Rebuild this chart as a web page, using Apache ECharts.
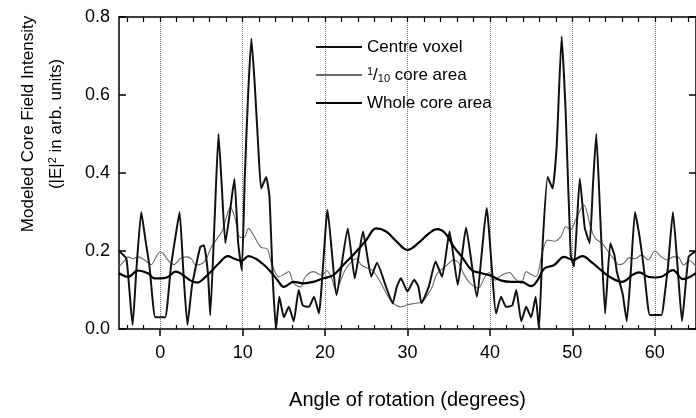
<!DOCTYPE html>
<html>
<head>
<meta charset="utf-8">
<script src="https://cdn.jsdelivr.net/npm/echarts@6/dist/echarts.min.js"></script>
<style>
  html, body { margin: 0; padding: 0; background: #fff; }
  #chart { width: 696px; height: 418px; }
</style>
</head>
<body>
<div id="chart"></div>
<script>
const FONT = '"Liberation Sans", Arial, Helvetica, sans-serif';

// [angle of rotation (deg), |E|^2 in arb. units]
const centreVoxel = [
  [-5, 0.2], [-4.1, 0.18], [-3.35, 0.01], [-2.9, 0.15], [-2.3, 0.30], [-1.8, 0.23],
  [-1.3, 0.16], [-0.9, 0.07], [-0.6, 0.03], [0.6, 0.03], [0.9, 0.07], [1.3, 0.16],
  [1.8, 0.23], [2.35, 0.30], [2.8, 0.15], [3.3, 0.01], [3.85, 0.11], [4.85, 0.21],
  [5.3, 0.215], [5.8, 0.14], [6.07, 0.035], [6.6, 0.28], [7.07, 0.50], [7.46, 0.37],
  [7.9, 0.22], [8.46, 0.30], [9.0, 0.385], [9.46, 0.22], [9.9, 0.15], [10.26, 0.39],
  [10.66, 0.60], [11.06, 0.745], [11.46, 0.63], [11.86, 0.48], [12.25, 0.36], [12.85, 0.39],
  [13.25, 0.34], [13.65, 0.13], [14.05, 0.0], [14.45, 0.083], [15.0, 0.03], [15.6, 0.057],
  [16.2, 0.02], [16.8, 0.10], [17.3, 0.06], [18.05, 0.057], [18.65, 0.083], [19.25, 0.04],
  [20.3, 0.305], [21.4, 0.087], [22.75, 0.258], [23.6, 0.13], [24.6, 0.25], [25.6, 0.134],
  [26.3, 0.17], [27.4, 0.108], [28.2, 0.066], [28.7, 0.108], [29.2, 0.13], [30.0, 0.096],
  [30.8, 0.126], [31.3, 0.11], [31.7, 0.066], [32.6, 0.11], [33.4, 0.173], [34.2, 0.134],
  [35.1, 0.25], [36.1, 0.113], [37.1, 0.26], [38.4, 0.083], [39.6, 0.31], [40.75, 0.04],
  [41.35, 0.083], [41.95, 0.057], [42.7, 0.06], [43.2, 0.10], [43.8, 0.02], [44.4, 0.057],
  [45.0, 0.03], [45.55, 0.083], [45.95, 0.0], [46.4, 0.22], [47.0, 0.39], [47.6, 0.36],
  [48.1, 0.47], [48.7, 0.75], [49.2, 0.55], [49.8, 0.19], [50.2, 0.16], [50.9, 0.386],
  [51.5, 0.26], [52.1, 0.22], [52.5, 0.37], [52.9, 0.50], [53.4, 0.28], [53.97, 0.04],
  [54.6, 0.22], [55.1, 0.19], [55.4, 0.147], [56.1, 0.09], [56.6, 0.02], [57.1, 0.15],
  [57.6, 0.30], [58.2, 0.23], [58.7, 0.15], [59.1, 0.07], [59.4, 0.036], [60.8, 0.036],
  [61.1, 0.07], [61.6, 0.16], [62.2, 0.30], [62.8, 0.15], [63.3, 0.02], [64.1, 0.185],
  [65, 0.2]
];

const tenthCore = [
  [-5, 0.16], [-4.5, 0.17], [-3.9, 0.185], [-3.3, 0.18], [-2.7, 0.185], [-1.9, 0.177],
  [-1.1, 0.165], [-0.5, 0.185], [0.0, 0.198], [0.5, 0.19], [1.0, 0.175], [1.7, 0.165],
  [2.4, 0.18], [3.2, 0.185], [3.8, 0.18], [4.3, 0.164], [5.1, 0.168], [5.6, 0.18],
  [6.2, 0.21], [7.0, 0.235], [7.5, 0.25], [8.0, 0.285], [8.5, 0.313], [9.0, 0.29],
  [9.7, 0.235], [10.2, 0.235], [10.7, 0.258], [11.4, 0.238], [12.2, 0.21], [13.0, 0.205],
  [13.5, 0.168], [14.4, 0.134], [15.0, 0.14], [15.6, 0.147], [16.2, 0.117], [17.0, 0.108],
  [17.6, 0.134], [18.6, 0.147], [19.6, 0.138], [20.2, 0.15], [20.8, 0.13], [21.3, 0.1],
  [22.4, 0.15], [23.2, 0.173], [23.8, 0.18], [24.4, 0.164], [25.2, 0.155], [25.8, 0.15],
  [26.8, 0.117], [27.6, 0.085], [28.4, 0.064], [29.2, 0.057], [30.0, 0.062], [31.0, 0.066],
  [31.8, 0.07], [32.5, 0.09], [33.0, 0.108], [33.6, 0.142], [34.6, 0.16], [35.6, 0.177],
  [36.2, 0.17], [36.8, 0.142], [37.6, 0.117], [38.6, 0.105], [39.4, 0.134], [39.9, 0.145],
  [40.6, 0.125], [41.4, 0.138], [42.4, 0.145], [43.0, 0.13], [43.8, 0.117], [44.4, 0.147],
  [45.0, 0.14], [45.6, 0.134], [46.4, 0.2], [47.0, 0.228], [47.8, 0.225], [48.6, 0.237],
  [49.2, 0.262], [49.8, 0.255], [50.4, 0.28], [51.4, 0.318], [52.2, 0.262], [52.8, 0.232],
  [53.6, 0.22], [54.3, 0.2], [55.0, 0.18], [55.6, 0.165], [56.2, 0.168], [56.9, 0.183],
  [57.6, 0.18], [58.4, 0.19], [59.2, 0.177], [60.0, 0.2], [60.8, 0.185], [61.6, 0.177],
  [62.2, 0.185], [62.8, 0.185], [63.5, 0.164], [64.2, 0.175], [65, 0.16]
];

const wholeCore = [
  [-5, 0.143], [-3.9, 0.134], [-2.7, 0.15], [-1.5, 0.143], [-0.7, 0.13], [0.0, 0.13],
  [0.8, 0.132], [1.9, 0.147], [2.5, 0.142], [3.7, 0.124], [4.5, 0.119], [5.3, 0.13],
  [6.2, 0.148], [7.1, 0.168], [8.2, 0.187], [9.0, 0.18], [9.9, 0.175], [10.7, 0.187],
  [11.6, 0.18], [12.6, 0.164], [13.4, 0.147], [14.2, 0.126], [15.0, 0.108], [16.2, 0.121],
  [17.4, 0.117], [18.6, 0.121], [19.8, 0.13], [21.0, 0.138], [22.2, 0.164], [23.6, 0.194],
  [25.0, 0.228], [26.2, 0.258], [27.4, 0.25], [28.6, 0.226], [30.0, 0.203], [31.4, 0.222],
  [32.6, 0.245], [33.6, 0.256], [34.6, 0.245], [35.6, 0.211], [36.6, 0.185], [37.8, 0.151],
  [39.0, 0.143], [40.2, 0.136], [41.4, 0.124], [42.6, 0.121], [43.8, 0.121], [45.0, 0.11],
  [45.8, 0.126], [46.6, 0.155], [47.8, 0.164], [49.0, 0.185], [50.1, 0.177], [51.2, 0.187],
  [52.4, 0.17], [53.8, 0.145], [54.8, 0.13], [56.0, 0.121], [57.4, 0.14], [58.1, 0.145],
  [59.2, 0.134], [60.0, 0.132], [60.8, 0.134], [62.2, 0.151], [63.4, 0.128], [65, 0.143]
];

const seriesNames = ['Centre voxel', '1/10 core area', 'Whole core area'];
const majorTicks = [0, 10, 20, 30, 40, 50, 60];
const minorTicks = [-4, -2, 2, 4, 6, 8, 12, 14, 16, 18, 22, 24, 26, 28, 32, 34, 36, 38,
  42, 44, 46, 48, 52, 54, 56, 58, 62, 64];
const topTicks = [-4, -2, 0, 2, 4, 6, 8, 10, 12, 14, 16, 18, 20, 22, 24, 26, 28, 30, 32,
  34, 36, 38, 40, 42, 44, 46, 48, 50, 52, 54, 56, 58, 60, 62, 64];

const chart = echarts.init(document.getElementById('chart'), null, { renderer: 'canvas' });

const frame = { show: true, onZero: false, lineStyle: { color: '#000', width: 1.5 } };
const textBase = { color: '#000', fontFamily: FONT };

chart.setOption({
  animation: false,
  backgroundColor: '#fff',
  textStyle: textBase,
  grid: { left: 119, top: 17, width: 585, height: 312 },
  legend: {
    data: seriesNames,
    orient: 'vertical',
    left: 310,
    top: 33,
    itemWidth: 46,
    itemHeight: 1,
    itemGap: 10,
    textStyle: {
      ...textBase,
      fontSize: 17,
      lineHeight: 18,
      rich: {
        n: { fontSize: 17, lineHeight: 18, fontFamily: FONT, color: '#000' },
        sup: { fontSize: 11, lineHeight: 6, verticalAlign: 'top', fontFamily: FONT, color: '#000' },
        sub: { fontSize: 11, lineHeight: 6, verticalAlign: 'bottom', fontFamily: FONT, color: '#000' }
      }
    },
    formatter: (name) => name === '1/10 core area' ? '{sup|1}{n|/}{sub|10}{n| core area}' : name
  },
  xAxis: [
    {
      type: 'value', position: 'bottom', min: -5, max: 65,
      axisLine: frame,
      axisTick: { show: true, inside: false, length: 7, customValues: majorTicks, lineStyle: { color: '#000', width: 1.5 } },
      axisLabel: { customValues: majorTicks, fontSize: 18, margin: 15, ...textBase },
      splitLine: { show: true, lineStyle: { type: 'dotted', color: '#777', width: 1 } },
      name: 'Angle of rotation (degrees)',
      nameLocation: 'middle',
      nameGap: 61,
      nameTextStyle: { fontSize: 20, ...textBase }
    },
    {
      type: 'value', position: 'bottom', min: -5, max: 65,
      axisLine: { show: false, onZero: false },
      axisTick: { show: true, inside: true, length: 4, customValues: minorTicks, lineStyle: { color: '#000', width: 1.2 } },
      axisLabel: { show: false },
      splitLine: { show: false }
    },
    {
      type: 'value', position: 'top', min: -5, max: 65,
      axisLine: frame,
      axisTick: { show: true, inside: true, length: 5, customValues: topTicks, lineStyle: { color: '#000', width: 1.2 } },
      axisLabel: { show: false },
      splitLine: { show: false }
    }
  ],
  yAxis: [
    {
      type: 'value', position: 'left', min: 0, max: 0.8, interval: 0.2,
      axisLine: frame,
      axisTick: { show: true, inside: true, length: 7, lineStyle: { color: '#000', width: 1.5 } },
      axisLabel: { fontSize: 18, margin: 9, formatter: (v) => v.toFixed(1), ...textBase },
      splitLine: { show: false }
    },
    {
      type: 'value', position: 'right', min: 0, max: 0.8, interval: 0.2,
      axisLine: frame,
      axisTick: { show: true, inside: true, length: 7, lineStyle: { color: '#000', width: 1.5 } },
      axisLabel: { show: false },
      splitLine: { show: false }
    }
  ],
  graphic: [
    {
      type: 'text', x: 28, y: 124, rotation: Math.PI / 2,
      style: { text: 'Modeled Core Field Intensity', font: '17px ' + FONT, fill: '#000', align: 'center', verticalAlign: 'middle' }
    },
    {
      type: 'text', x: 56, y: 124, rotation: Math.PI / 2,
      style: {
        text: '(|E|{s|2} in arb. units)', font: '17px ' + FONT, fill: '#000', align: 'center', verticalAlign: 'middle',
        rich: { s: { fontSize: 11, lineHeight: 6, verticalAlign: 'top', fontFamily: FONT, fill: '#000' } }
      }
    }
  ],
  series: [
    {
      name: seriesNames[0], type: 'line', data: centreVoxel, symbol: 'none', smooth: 0.15,
      lineStyle: { color: '#111', width: 2 }, itemStyle: { color: '#111' }, z: 3
    },
    {
      name: seriesNames[1], type: 'line', data: tenthCore, symbol: 'none', smooth: 0.3,
      lineStyle: { color: '#6a6a6a', width: 1.1 }, itemStyle: { color: '#6a6a6a' }, z: 2
    },
    {
      name: seriesNames[2], type: 'line', data: wholeCore, symbol: 'none', smooth: 0.4,
      lineStyle: { color: '#000', width: 2.2 }, itemStyle: { color: '#000' }, z: 4
    }
  ]
});
</script>
</body>
</html>
